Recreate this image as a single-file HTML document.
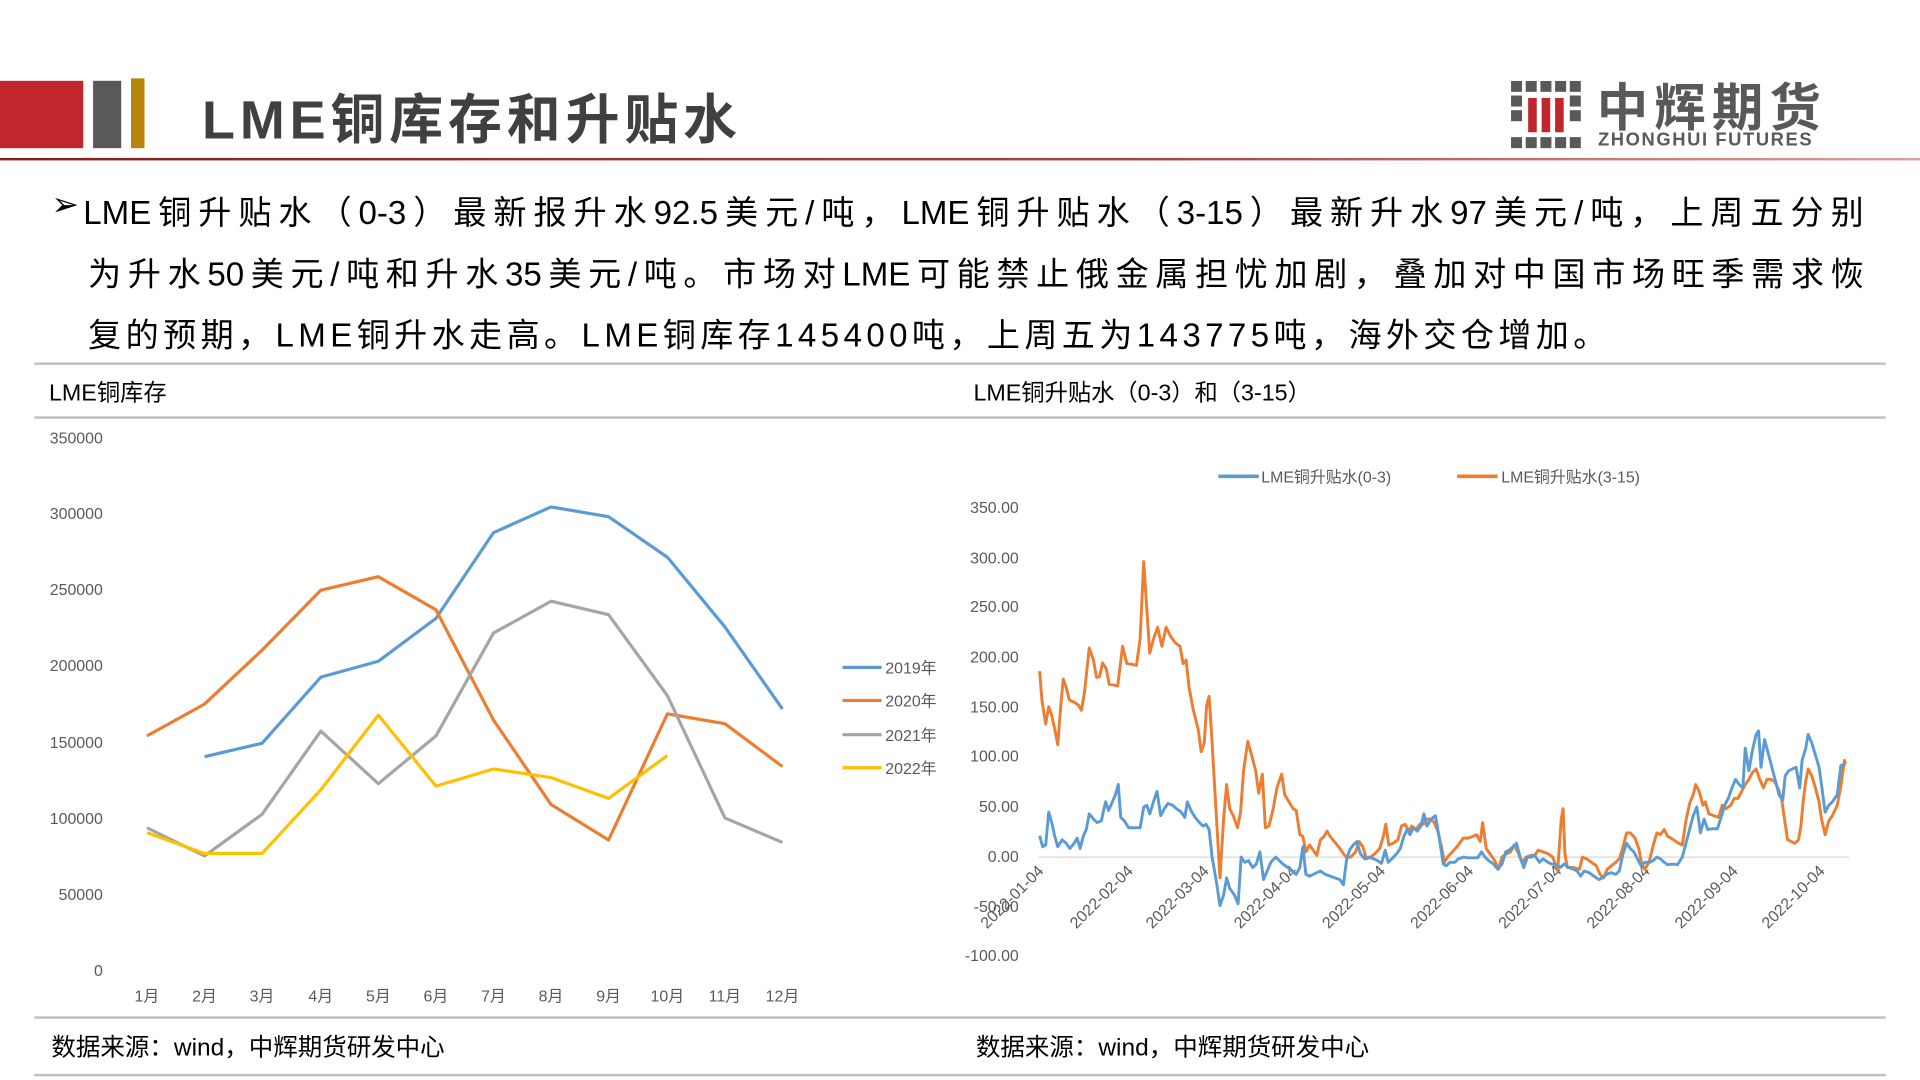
<!DOCTYPE html>
<html><head><meta charset="utf-8"><style>
html,body{margin:0;padding:0;background:#fff;width:1920px;height:1080px;overflow:hidden}
#w{position:absolute;left:0;top:0;width:1568px;height:882px;transform:scale(1.22449);transform-origin:0 0;font-family:"Liberation Sans","Noto Sans CJK SC",sans-serif}
.a{position:absolute;white-space:nowrap}
.ln{position:absolute;left:72px;width:1450px;font-size:27px;color:#000;text-align:justify;text-align-last:justify;white-space:nowrap}
.hl{position:absolute;left:28px;width:1512px;height:2px;background:#bfbfbf}
</style></head><body><div id="w">
<div class="a" style="left:0;top:66px;width:68px;height:55px;background:#c0262b"></div>
<div class="a" style="left:76px;top:66px;width:23px;height:55px;background:#595959"></div>
<div class="a" style="left:107px;top:64px;width:11px;height:57px;background:#b8860b"></div>
<div class="a" style="left:165px;top:62px;font-size:44px;font-weight:bold;color:#404040;letter-spacing:4px">LME铜库存和升贴水</div>
<svg class="a" style="left:1234px;top:66px" width="58" height="56">
<g fill="#595959">
<rect x="0" y="0" width="9" height="9"/><rect x="12" y="0" width="9" height="9"/><rect x="24" y="0" width="9" height="9"/><rect x="36" y="0" width="9" height="9"/><rect x="48" y="0" width="9" height="9"/>
<rect x="0" y="46" width="9" height="9"/><rect x="12" y="46" width="9" height="9"/><rect x="24" y="46" width="9" height="9"/><rect x="36" y="46" width="9" height="9"/><rect x="48" y="46" width="9" height="9"/>
<rect x="0" y="12" width="9" height="9"/><rect x="0" y="24" width="9" height="9"/><rect x="48" y="12" width="9" height="9"/><rect x="48" y="24" width="9" height="9"/></g>
<g fill="#c0262b"><rect x="14" y="14" width="7" height="28"/><rect x="25" y="14" width="7" height="28"/><rect x="36" y="14" width="7" height="28"/></g>
</svg>
<div class="a" style="left:1304px;top:55px;font-size:42px;font-weight:bold;color:#595959;letter-spacing:5px">中辉期货</div>
<div class="a" style="left:1305px;top:106px;font-size:15px;font-weight:bold;color:#595959;letter-spacing:1.3px">ZHONGHUI FUTURES</div>
<div class="a" style="left:0;top:129px;width:1568px;height:2px;background:linear-gradient(90deg,#8b1a1a,#b04040 60%,#d8a0a0)"></div>

<div class="a" style="left:42px;top:152px;font-size:27px">➢</div>
<div class="ln" style="left:68px;width:1454px;top:152px">LME铜升贴水（0-3）最新报升水92.5美元/吨，LME铜升贴水（3-15）最新升水97美元/吨，上周五分别</div>
<div class="ln" style="top:202px">为升水50美元/吨和升水35美元/吨。市场对LME可能禁止俄金属担忧加剧，叠加对中国市场旺季需求恢</div>
<div class="ln" style="top:252px;width:auto;text-align:left;text-align-last:left;letter-spacing:3.6px">复的预期，LME铜升水走高。LME铜库存145400吨，上周五为143775吨，海外交仓增加。</div>

<div class="hl" style="top:296px"></div>
<div class="a" style="left:40px;top:306px;font-size:19px">LME铜库存</div>
<div class="a" style="left:795px;top:306px;font-size:19px">LME铜升贴水（0-3）和（3-15）</div>
<div class="hl" style="top:340px"></div>
<div class="hl" style="top:830px"></div>
<div class="a" style="left:42px;top:839px;font-size:20px">数据来源：wind，中辉期货研发中心</div>
<div class="a" style="left:797px;top:839px;font-size:20px">数据来源：wind，中辉期货研发中心</div>
<div class="hl" style="top:877px"></div>

<svg class="a" style="left:0;top:0" width="1568" height="882" font-family="Liberation Sans, Noto Sans CJK SC, sans-serif">
<g font-size="13" fill="#595959" text-anchor="end">
<text x="84" y="362">350000</text><text x="84" y="424">300000</text><text x="84" y="486">250000</text><text x="84" y="548">200000</text><text x="84" y="611">150000</text><text x="84" y="673">100000</text><text x="84" y="735">50000</text><text x="84" y="797">0</text>
</g>
<g font-size="13" fill="#595959" text-anchor="middle">
<text x="120" y="818">1月</text><text x="167" y="818">2月</text><text x="214" y="818">3月</text><text x="262" y="818">4月</text><text x="309" y="818">5月</text><text x="356" y="818">6月</text><text x="403" y="818">7月</text><text x="450" y="818">8月</text><text x="497" y="818">9月</text><text x="545" y="818">10月</text><text x="592" y="818">11月</text><text x="639" y="818">12月</text>
</g>
<g fill="none" stroke-width="2.6" stroke-linejoin="round">
<polyline stroke="#5b9bd5" points="167,618 214,607 262,553 309,540 356,505 403,435 450,414 497,422 545,455 592,512 639,579"/>
<polyline stroke="#ed7d31" points="120,601 167,575 214,531 262,482 309,471 356,498 403,588 450,657 497,686 545,583 592,591 639,626"/>
<polyline stroke="#a5a5a5" points="120,676 167,699 214,665 262,597 309,640 356,601 403,517 450,491 497,502 545,568 592,668 639,688"/>
<polyline stroke="#ffc000" points="120,680 167,697 214,697 262,645 309,584 356,642 403,628 450,635 497,652 545,617"/>
</g>
<g stroke-width="2.6"><line x1="688" y1="545" x2="720" y2="545" stroke="#5b9bd5"/><line x1="688" y1="572" x2="720" y2="572" stroke="#ed7d31"/><line x1="688" y1="600" x2="720" y2="600" stroke="#a5a5a5"/><line x1="688" y1="627" x2="720" y2="627" stroke="#ffc000"/></g>
<g font-size="13" fill="#595959"><text x="723" y="550">2019年</text><text x="723" y="577">2020年</text><text x="723" y="605">2021年</text><text x="723" y="632">2022年</text></g>

<g font-size="13" fill="#595959" text-anchor="end">
<text x="832" y="419">350.00</text><text x="832" y="460">300.00</text><text x="832" y="500">250.00</text><text x="832" y="541">200.00</text><text x="832" y="582">150.00</text><text x="832" y="622">100.00</text><text x="832" y="663">50.00</text><text x="832" y="704">0.00</text><text x="832" y="745">-50.00</text><text x="832" y="785">-100.00</text>
</g>
<line x1="848" y1="700" x2="1510" y2="700" stroke="#d9d9d9" stroke-width="1"/>
<g font-size="13" fill="#595959" text-anchor="end">
<text transform="translate(853,712) rotate(-45)">2022-01-04</text>
<text transform="translate(926,712) rotate(-45)">2022-02-04</text>
<text transform="translate(988,712) rotate(-45)">2022-03-04</text>
<text transform="translate(1060,712) rotate(-45)">2022-04-04</text>
<text transform="translate(1132,712) rotate(-45)">2022-05-04</text>
<text transform="translate(1204,712) rotate(-45)">2022-06-04</text>
<text transform="translate(1276,712) rotate(-45)">2022-07-04</text>
<text transform="translate(1348,712) rotate(-45)">2022-08-04</text>
<text transform="translate(1420,712) rotate(-45)">2022-09-04</text>
<text transform="translate(1491,712) rotate(-45)">2022-10-04</text>
</g>
<g stroke-width="3"><line x1="995" y1="389" x2="1028" y2="389" stroke="#5b9bd5"/><line x1="1190" y1="389" x2="1223" y2="389" stroke="#ed7d31"/></g>
<g font-size="13" fill="#595959"><text x="1030" y="394">LME铜升贴水(0-3)</text><text x="1226" y="394">LME铜升贴水(3-15)</text></g>
<g transform="translate(775.9,358.4) scale(0.4942,0.2823)" fill="none" stroke-width="2.4" stroke-linejoin="round">
<polyline vector-effect="non-scaling-stroke" stroke="#ed7d31" points="148,672 152,760 158,825 163,775 168,800 173,840 178,885 183,770 187,695 192,720 197,755 205,762 212,770 217,785 222,735 230,605 237,640 242,690 247,688 252,648 258,665 263,710 270,712 277,715 285,600 292,650 300,652 308,655 314,580 320,355 325,490 330,620 336,580 343,545 350,600 357,545 364,570 372,590 380,600 385,650 390,640 395,720 402,785 410,840 415,905 420,880 424,770 428,745 432,850 437,1000 442,1150 446,1270 452,1100 457,1000 462,1070 468,1090 475,1125 480,1080 485,960 492,875 499,920 505,960 510,1025 516,970 521,1125 527,1120 534,1070 540,1010 548,970 553,1030 560,1050 567,1070 572,1075 578,1145 583,1150 588,1195 594,1175 600,1190 606,1205 612,1160 618,1150 623,1135 628,1150 635,1165 642,1180 650,1200 655,1210 662,1210 670,1195 676,1165 682,1180 688,1215 695,1210 702,1200 710,1185 716,1150 720,1115 725,1175 732,1170 740,1160 746,1120 752,1115 758,1135 763,1120 770,1130 776,1115 782,1115 788,1100 795,1100 800,1110 806,1135 812,1180 817,1225 822,1210 830,1195 840,1175 848,1155 856,1155 864,1150 870,1145 876,1165 880,1110 886,1185 894,1205 900,1220 906,1245 912,1210 920,1200 926,1195 932,1175 938,1195 945,1225 952,1210 960,1205 966,1205 972,1190 980,1195 988,1200 996,1210 1004,1250 1010,1100 1013,1070 1016,1200 1020,1240 1030,1240 1040,1245 1045,1210 1052,1215 1060,1225 1068,1235 1074,1260 1080,1270 1086,1245 1093,1235 1100,1225 1106,1215 1112,1180 1118,1140 1124,1140 1132,1155 1138,1185 1143,1230 1148,1245 1155,1225 1162,1175 1168,1140 1174,1145 1180,1130 1186,1150 1194,1158 1202,1168 1210,1175 1216,1105 1222,1055 1228,1030 1232,1000 1238,1020 1244,1060 1248,1050 1254,1085 1262,1090 1270,1095 1276,1060 1282,1070 1290,1060 1296,1040 1302,1040 1308,1020 1314,1000 1320,985 1326,965 1332,955 1338,985 1344,1010 1350,985 1356,985 1362,990 1368,1010 1374,1040 1378,1090 1384,1160 1390,1165 1396,1170 1402,1160 1406,1120 1410,1045 1414,990 1418,955 1424,975 1430,1010 1436,1050 1440,1100 1446,1145 1452,1105 1458,1090 1466,1060 1472,1005 1478,930 1480,940"/>
<polyline vector-effect="non-scaling-stroke" stroke="#5b9bd5" points="148,1148 153,1180 158,1175 163,1080 168,1110 173,1150 178,1180 185,1160 192,1170 198,1185 205,1170 210,1155 215,1185 220,1150 225,1130 230,1085 237,1100 243,1110 250,1105 257,1050 262,1075 267,1055 273,1030 278,1000 282,1095 288,1105 295,1125 300,1125 308,1125 314,1125 320,1065 325,1060 330,1085 336,1050 342,1020 348,1090 354,1070 360,1055 368,1060 374,1070 382,1080 388,1095 392,1050 398,1075 405,1095 412,1110 418,1120 423,1115 428,1130 433,1210 440,1280 446,1350 452,1320 457,1270 462,1300 470,1320 476,1345 481,1210 487,1225 493,1220 500,1240 506,1230 512,1195 518,1275 524,1250 530,1225 538,1210 544,1220 550,1230 558,1240 565,1250 572,1260 578,1240 583,1180 588,1260 594,1265 600,1260 606,1255 612,1250 620,1260 628,1265 636,1270 644,1275 650,1290 655,1220 660,1190 666,1175 672,1165 678,1200 685,1215 692,1210 700,1215 706,1220 713,1228 719,1190 724,1225 730,1215 738,1200 744,1185 750,1150 755,1130 760,1145 766,1125 772,1135 778,1120 783,1085 788,1120 795,1100 802,1090 808,1150 815,1230 820,1235 826,1225 834,1225 840,1215 848,1210 856,1212 864,1212 872,1212 878,1195 884,1210 890,1220 898,1230 905,1245 912,1230 918,1195 924,1190 930,1180 936,1170 942,1210 948,1240 954,1210 960,1210 966,1205 974,1225 980,1215 988,1225 994,1230 1000,1230 1008,1240 1015,1230 1022,1240 1030,1245 1036,1250 1042,1265 1048,1250 1056,1255 1064,1265 1072,1275 1078,1270 1085,1260 1092,1255 1100,1260 1106,1250 1112,1200 1118,1170 1124,1185 1130,1195 1136,1215 1142,1235 1148,1225 1156,1225 1162,1220 1168,1210 1174,1215 1180,1225 1186,1232 1194,1230 1202,1232 1210,1210 1216,1170 1222,1130 1228,1090 1234,1065 1240,1140 1246,1100 1252,1130 1260,1128 1268,1128 1274,1095 1280,1060 1286,1040 1292,1010 1298,985 1304,1000 1310,1010 1314,895 1320,960 1326,900 1332,855 1336,845 1340,950 1346,870 1352,910 1358,950 1364,990 1370,1030 1376,1045 1380,975 1386,960 1392,955 1398,950 1404,1010 1408,930 1414,895 1418,855 1424,880 1430,915 1436,950 1440,1000 1446,1080 1452,1060 1458,1050 1466,1030 1472,945 1480,940"/>
</g>
</svg>
</div></body></html>
